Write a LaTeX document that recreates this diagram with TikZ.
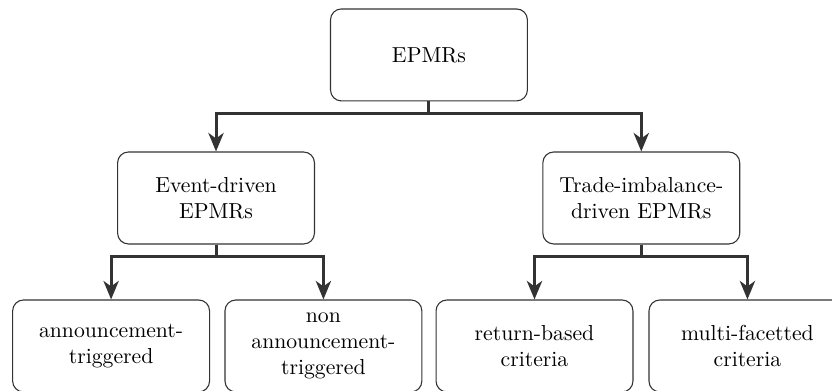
\documentclass[tikz,border=0pt]{standalone}
\usepackage{tikz}
\usetikzlibrary{arrows.meta, positioning}
\usepackage{xcolor}

\begin{document}
\begin{tikzpicture}[
  box/.style={rectangle, draw=black!80, line width=0.5pt, minimum width=3.19cm, minimum height=1.49cm,
    text centered, align=center, fill=white, font=\normalsize, rounded corners=5pt},
  arrow/.style={-{Stealth[length=8.5pt, width=7pt, inset=2.5pt]}, line width=1.4pt, draw=black!80}
]

% 画布
\clip (0,0) rectangle (13.48,-6.334);
\useasboundingbox (0,0) rectangle (13.48,-6.334);

% 根节点
\node (root) [box] at (6.95,-0.89) {EPMRs};

% 第一层
\node (event) [box, below=0.81cm of root, xshift=-3.45cm] {Event-driven\\EPMRs};
\node (trade) [box, below=0.81cm of root, xshift=3.44cm] {Trade-imbalance-\\driven EPMRs};

% 第二层
\node (ann) [box, below=0.89cm of event, xshift=-1.70cm] {announcement-\\triggered};
\node (nonann) [box, below=0.89cm of event, xshift=1.74cm] {non\\announcement-\\triggered};
\node (ret) [box, below=0.89cm of trade, xshift=-1.73cm] {return-based\\criteria};
\node (multi) [box, below=0.89cm of trade, xshift=1.72cm] {multi-facetted\\criteria};

% 箭头
\draw [arrow] (root.south) -- ++(0,-0.19) -| (event.north);
\draw [arrow] (root.south) -- ++(0,-0.19) -| (trade.north);
\draw [arrow] (event.south) -- ++(0,-0.19) -| (ann.north);
\draw [arrow] (event.south) -- ++(0,-0.19) -| (nonann.north);
\draw [arrow] (trade.south) -- ++(0,-0.19) -| (ret.north);
\draw [arrow] (trade.south) -- ++(0,-0.19) -| (multi.north);

\end{tikzpicture}
\end{document}
